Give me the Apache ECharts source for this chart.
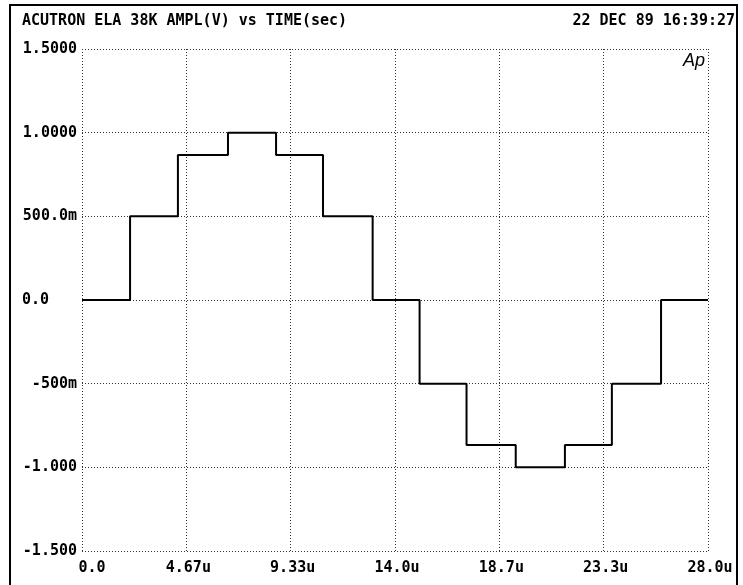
<!DOCTYPE html>
<html>
<head>
<meta charset="utf-8">
<script src="https://cdn.jsdelivr.net/npm/echarts@6/dist/echarts.min.js"></script>
<style>
html,body{margin:0;padding:0;background:#fff;}
#chart{width:743px;height:585px;}
</style>
</head>
<body>
<div id="chart"></div>
<script>
// Sample times (microseconds) where each step begins, plus the end point
var stepTimes = [0, 2.15, 4.29, 6.53, 8.68, 10.78, 13.0, 15.1, 17.2, 19.4, 21.6, 23.7, 25.9, 28.0];
// Amplitude (V) held from each step time to the next
var stepValues = [0, 0.5, 0.866, 1.0, 0.866, 0.5, 0, -0.5, -0.866, -1.0, -0.866, -0.5, 0, 0];
var xTickLabels = ['0.0', '4.67u', '9.33u', '14.0u', '18.7u', '23.3u', '28.0u'];
var yTickValues = [1.5, 1.0, 0.5, 0, -0.5, -1.0, -1.5];
var yTickLabels = ['1.5000', '1.0000', '500.0m', '0.0', '-500m', '-1.000', '-1.500'];
var titleText = 'ACUTRON ELA 38K AMPL(V) vs TIME(sec)';
var dateText = '22 DEC 89 16:39:27';

var FONT = '"DejaVu Sans Mono", "Liberation Mono", monospace';
var data = stepTimes.map(function (t, i) { return [t, stepValues[i]]; });
var xInterval = 28 / 6;

var chart = echarts.init(document.getElementById('chart'), null, {renderer: 'canvas'});
chart.setOption({
  backgroundColor: '#ffffff',
  animation: false,
  grid: {left: 82, right: 35, top: 49, bottom: 34, containLabel: false},
  xAxis: {
    type: 'value', min: 0, max: 28, interval: xInterval,
    axisLine: {show: false}, axisTick: {show: false},
    splitLine: {show: true, lineStyle: {type: [1, 2], color: '#333', width: 1}},
    axisLabel: {
      margin: 10, color: '#000', fontFamily: FONT, fontWeight: 'bold', fontSize: 15,
      showMinLabel: true, showMaxLabel: true,
      formatter: function (v) {
        var s = xTickLabels[Math.round(v / xInterval)] || '';
        if (s === '0.0') return '{z|' + s + '}';
        return '{n|' + s + '}';
      },
      rich: {
        z: {fontFamily: FONT, fontWeight: 'bold', fontSize: 15, color: '#000', padding: [0, 0, 0, 20]},
        n: {fontFamily: FONT, fontWeight: 'bold', fontSize: 15, color: '#000', padding: [0, 0, 0, 4]}
      }
    }
  },
  yAxis: {
    type: 'value', min: -1.5, max: 1.5, interval: 0.5,
    axisLine: {show: false}, axisTick: {show: false},
    splitLine: {show: true, lineStyle: {type: [1, 2], color: '#333', width: 1}},
    axisLabel: {
      margin: 5, color: '#000', fontFamily: FONT, fontWeight: 'bold', fontSize: 15,
      showMinLabel: true, showMaxLabel: true,
      formatter: function (v) {
        var idx = -1;
        for (var i = 0; i < yTickValues.length; i++) { if (Math.abs(yTickValues[i] - v) < 1e-6) idx = i; }
        if (idx < 0) return '';
        if (yTickLabels[idx] === '0.0') return '{z|' + yTickLabels[idx] + '}';
        return yTickLabels[idx];
      },
      rich: {z: {fontFamily: FONT, fontWeight: 'bold', fontSize: 15, color: '#000', padding: [0, 28, 0, 0]}}
    }
  },
  series: [{
    type: 'line', step: 'end', data: data, showSymbol: false, symbol: 'none',
    lineStyle: {color: '#000', width: 2}
  }],
  graphic: [
    {type: 'rect', shape: {x: 10, y: 5, width: 727, height: 600},
     style: {fill: 'none', stroke: '#000', lineWidth: 2}, silent: true},
    {type: 'text', left: 22, top: 14,
     style: {text: titleText, font: 'bold 15px ' + FONT, fill: '#000'}},
    {type: 'text', right: 8, top: 14,
     style: {text: dateText, font: 'bold 15px ' + FONT, fill: '#000'}},
    {type: 'text', left: 683, top: 52,
     style: {text: 'Ap', font: 'italic 18px "Liberation Sans", sans-serif', fill: '#000'}}
  ]
});
</script>
</body>
</html>
